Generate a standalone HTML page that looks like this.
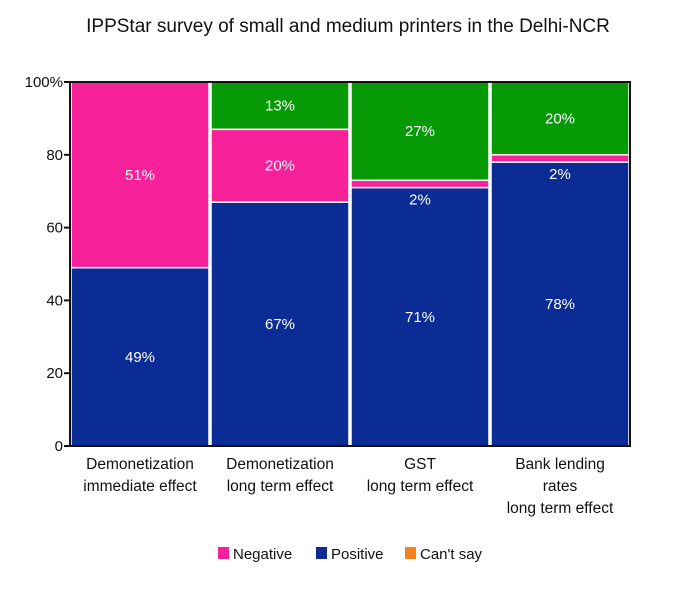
<!DOCTYPE html>
<html><head><meta charset="utf-8"><style>
body{margin:0;background:#fff;}
svg{display:block;font-family:"Liberation Sans",sans-serif;}
</style></head><body>
<svg id="chart" width="696" height="600" viewBox="0 0 696 600">
<text x="348" y="32" text-anchor="middle" font-size="19" fill="#111">IPPStar survey of small and medium printers in the Delhi-NCR</text>
<g id="bars"></g><g id="axis"></g><g id="labels"></g>
<g>
<rect x="218" y="547" width="11" height="12" fill="#f7219a"/>
<text x="233" y="559" font-size="15" fill="#111">Negative</text>
<rect x="316" y="547" width="11" height="12" fill="#0a2c94"/>
<text x="331" y="559" font-size="15" fill="#111">Positive</text>
<rect x="405" y="547" width="11" height="12" fill="#f5821f"/>
<text x="420" y="559" font-size="15" fill="#111">Can't say</text>
</g>
</svg>
<script>
const categories=[["Demonetization","immediate effect"],["Demonetization","long term effect"],["GST","long term effect"],["Bank lending","rates","long term effect"]];
const positive=[49,67,71,78];
const negative=[51,20,2,2];
const other=[0,13,27,20];
const yTicks=[0,20,40,60,80,100];
const L=70,R=630,T=82,B=446;
const NS="http://www.w3.org/2000/svg";
const y=v=>B-(B-T)*v/100;
const bw=(R-L)/categories.length;
const x=i=>L+i*bw;
function mk(t,a,p){const e=document.createElementNS(NS,t);for(const k in a)e.setAttribute(k,a[k]);p.appendChild(e);return e;}
const bars=document.getElementById('bars'),ax=document.getElementById('axis'),lb=document.getElementById('labels');
const series=[[positive,'#0a2c94','positive'],[negative,'#f7219a','negative'],[other,'#079a07','other']];
categories.forEach((c,i)=>{
  let base=0;
  series.forEach(([arr,col,nm])=>{
    const v=arr[i]; if(v<=0)return;
    const r=mk('rect',{x:x(i)+1,y:y(base+v),width:bw-2,height:y(base)-y(base+v),fill:col,stroke:'#fff','stroke-width':1.5},bars);
    
    
    let ly=(y(base)+y(base+v))/2+5;
    if(v<5) ly=y(base)+17;
    const t=mk('text',{x:x(i)+bw/2,y:ly,'text-anchor':'middle','font-size':15,fill:'#fff'},lb);
    t.textContent=v+'%';
    
    
    base+=v;
  });
  c.forEach((ln,j)=>{
    const t=mk('text',{x:x(i)+bw/2,y:469+j*22,'text-anchor':'middle','font-size':15.5,fill:'#111'},ax);
    t.textContent=ln;
    
    
  });
});
const fr=mk('rect',{x:L,y:T,width:R-L,height:B-T,fill:'none',stroke:'#111','stroke-width':2},ax);


yTicks.forEach(v=>{
  const l=mk('line',{x1:L-6,x2:L,y1:y(v),y2:y(v),stroke:'#111','stroke-width':2},ax);
  
  
  const t=mk('text',{x:L-7,y:y(v)+5,'text-anchor':'end','font-size':15,fill:'#111'},ax);
  t.textContent=v===100?'100%':String(v);
  
  
});
</script>
</body></html>
